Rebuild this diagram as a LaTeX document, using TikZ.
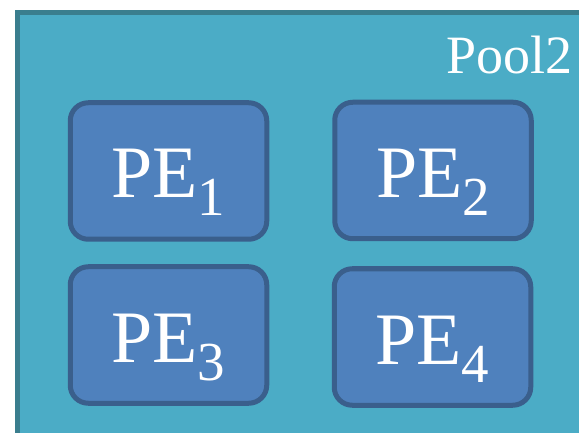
\documentclass[tikz,border=0pt]{standalone}
\usepackage{fontspec}
\setmainfont{Liberation Serif}
\definecolor{poolfill}{HTML}{4BACC6}
\definecolor{poolline}{HTML}{3A7E8E}
\definecolor{pefill}{HTML}{4F81BD}
\definecolor{peline}{HTML}{3A5F8C}
\newcommand{\pelabel}[1]{\fontsize{74}{74}\selectfont PE\raisebox{-18pt}{\fontsize{55}{55}\selectfont #1}}
\tikzset{
  pool/.style={fill=poolfill, draw=poolline, line width=5pt},
  pebox/.style={rectangle, rounded corners=18pt, fill=pefill, draw=peline,
    line width=5pt, minimum width=196.5pt, minimum height=136.5pt,
    inner sep=0pt, text=white, text height=54pt, text depth=0pt},
  poolname/.style={anchor=base east, inner sep=0pt, text=white,
    font=\fontsize{54}{54}\selectfont}
}
\begin{document}
\begin{tikzpicture}[x=1pt, y=-1pt]
  \useasboundingbox (0,0) rectangle (579,433);
  \clip (0,0) rectangle (579,433);
  % pool area, running off the right and bottom edges
  \draw[pool] (17.5,12.5) rectangle (600,460);
  \node[poolname] (pool) at (573,74) {Pool2};
  % processing elements
  \node[pebox] (pe1) at (168.5,171) {\pelabel{1}};
  \node[pebox] (pe2) at (433,170.5) {\pelabel{2}};
  \node[pebox] (pe3) at (168.5,335) {\pelabel{3}};
  \node[pebox] (pe4) at (432.5,337) {\pelabel{4}};
\end{tikzpicture}
\end{document}
